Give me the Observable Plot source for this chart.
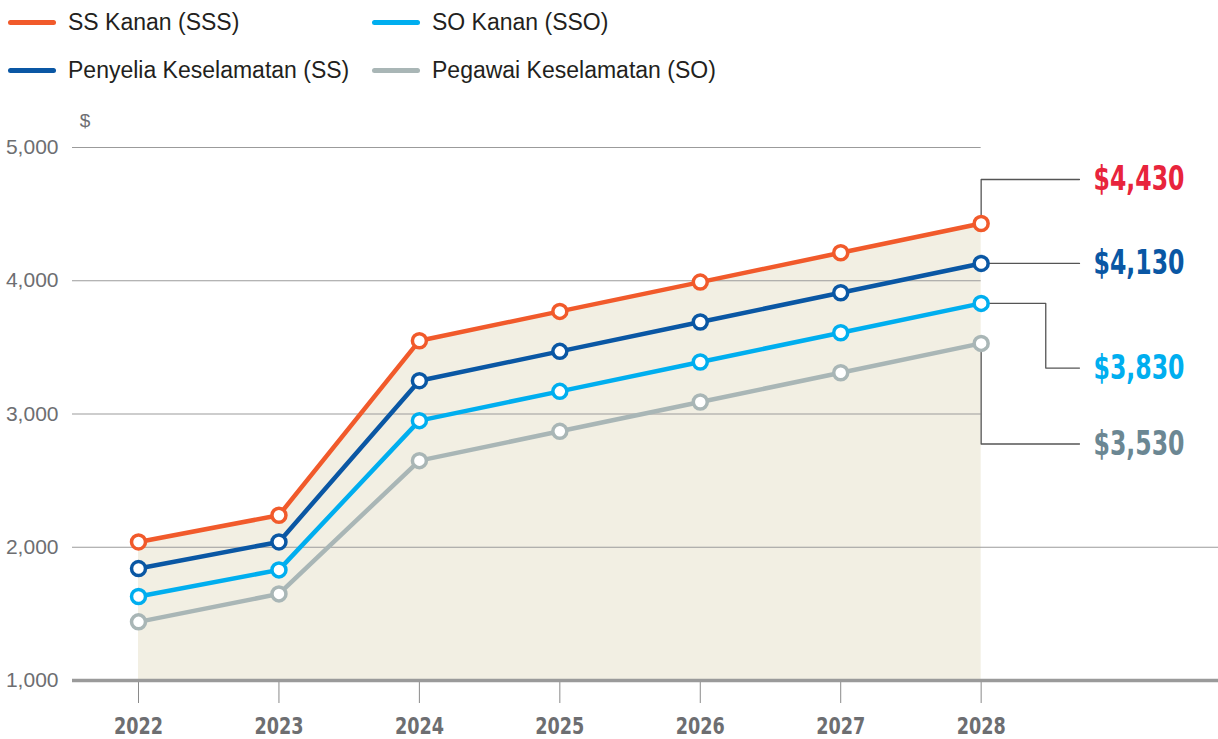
<!DOCTYPE html>
<html><head><meta charset="utf-8">
<script src="https://cdn.jsdelivr.net/npm/d3@7"></script>
<script src="https://cdn.jsdelivr.net/npm/@observablehq/plot@0.6"></script>
<style>
body{margin:0;background:#fff;font-family:"Liberation Sans",Arial,sans-serif;}
#legend{position:relative;height:100px;width:1218px;}
.item{position:absolute;display:flex;align-items:center;font-size:23px;color:#231f20;}
.sw{width:48px;height:5px;border-radius:3px;margin-right:12px;}
#chart svg{display:block;}
</style></head><body>
<div id="legend"></div>
<div id="chart"></div>
<script>
const years = [2022, 2023, 2024, 2025, 2026, 2027, 2028];
const sss = [2040, 2240, 3550, 3770, 3990, 4210, 4430];
const ss  = [1840, 2040, 3250, 3470, 3690, 3910, 4130];
const sso = [1630, 1830, 2950, 3170, 3390, 3610, 3830];
const so  = [1440, 1650, 2650, 2870, 3090, 3310, 3530];
const seriesNames = ["SS Kanan (SSS)", "Penyelia Keselamatan (SS)", "SO Kanan (SSO)", "Pegawai Keselamatan (SO)"];
const seriesColors = ["#f15a2b", "#0a57a4", "#00aeef", "#a9b6b6"];
const labelColors = ["#e8243c", "#0a57a4", "#00aeef", "#6b8793"];
const valueLabels = ["$4,430", "$4,130", "$3,830", "$3,530"];
const labelY = [4760, 4130, 3345, 2775];
const yTicks = [1000, 2000, 3000, 4000, 5000];
const xTicks = years;

const allSeries = [sss, ss, sso, so];
const rows = [];
allSeries.forEach((vals, i) => years.forEach((yr, j) => rows.push({year: yr, value: vals[j], s: i})));

// legend
const legend = document.getElementById("legend");
const legPos = [[8, 23], [8, 71], [372, 23], [372, 71]];
seriesNames.forEach((n, i) => {
  const d = document.createElement("div");
  d.className = "item";
  d.style.left = legPos[i][0] + "px";
  d.style.top = (legPos[i][1] - 14) + "px";
  d.innerHTML = `<div class="sw" style="background:${seriesColors[i]}"></div><span>${n}</span>`;
  legend.appendChild(d);
});

const lastX = years[years.length - 1];
const elbowX = 2028.46, endX = 2028.7, textX = 2028.8;
const leaders = [
  [[lastX, sss[6]], [lastX, labelY[0]], [endX, labelY[0]]],
  [[lastX, ss[6]], [endX, labelY[1]]],
  [[lastX, sso[6]], [elbowX, sso[6]], [elbowX, labelY[2]], [endX, labelY[2]]],
  [[lastX, so[6]], [lastX, labelY[3]], [endX, labelY[3]]]
];
const leaderRows = [];
leaders.forEach((pts, i) => pts.forEach(p => leaderRows.push({x: p[0], y: p[1], s: i})));
const labRows = valueLabels.map((t, i) => ({x: textX, y: labelY[i], t, c: labelColors[i]}));

const condensed = "Liberation Sans Narrow, DejaVu Sans Condensed, sans-serif";
const plot = Plot.plot({
  width: 1218, height: 639,
  marginLeft: 72, marginRight: 0, marginTop: 47, marginBottom: 59,
  x: {domain: [2021.53, 2029.69]},
  y: {domain: [1000, 5000]},
  style: {fontFamily: "Liberation Sans, Arial, sans-serif", background: "#fff"},
  marks: [
    Plot.areaY(years.map((y, j) => ({year: y, v: sss[j]})), {x: "year", y1: 1000, y2: "v", fill: "#f2efe3"}),
    Plot.ruleY([3000, 4000, 5000], {x1: 2021.53, x2: lastX, stroke: "#9b9b9b", strokeWidth: 1.2}),
    Plot.ruleY([2000], {stroke: "#9b9b9b", strokeWidth: 1.2}),
    Plot.axisX({ticks: xTicks, tickFormat: d => String(d), tickSize: 23, tickPadding: 14, stroke: "#8a8a8a",
      fontSize: 23.5, fontWeight: "bold", fill: "#6d6e71", fontFamily: condensed, label: null}),
    Plot.ruleY([1000], {stroke: "#9a9a9a", strokeWidth: 3.5}),
    Plot.axisY({ticks: yTicks, tickFormat: d3.format(","), tickSize: 0, tickPadding: 14, fontSize: 21, fill: "#6d6e71", label: null}),
    Plot.text(["$"], {x: 2021.62, y: 5000, dy: -27, text: d => d, fontSize: 19, fill: "#6d6e71"}),
    Plot.line(leaderRows, {x: "x", y: "y", z: "s", stroke: "#555", strokeWidth: 1.3, curve: "linear"}),
    Plot.line(rows, {x: "year", y: "value", z: "s", stroke: d => seriesColors[d.s], strokeWidth: 4.5}),
    Plot.dot(rows, {x: "year", y: "value", r: 7, fill: "#fff", stroke: d => seriesColors[d.s], strokeWidth: 3.5}),
    Plot.text(labRows, {x: "x", y: "y", text: "t", fill: "c", textAnchor: "start", fontSize: 34, fontWeight: "bold",
      fontFamily: condensed})
  ]
});
plot.querySelectorAll("text").forEach(t => {
  const s = t.textContent;
  if (/^\$\d/.test(s)) { t.setAttribute("textLength", 91); t.setAttribute("lengthAdjust", "spacingAndGlyphs"); }
  else if (/^20\d\d$/.test(s)) { t.setAttribute("textLength", 49); t.setAttribute("lengthAdjust", "spacingAndGlyphs"); }
});
document.getElementById("chart").appendChild(plot);
</script>
</body></html>
